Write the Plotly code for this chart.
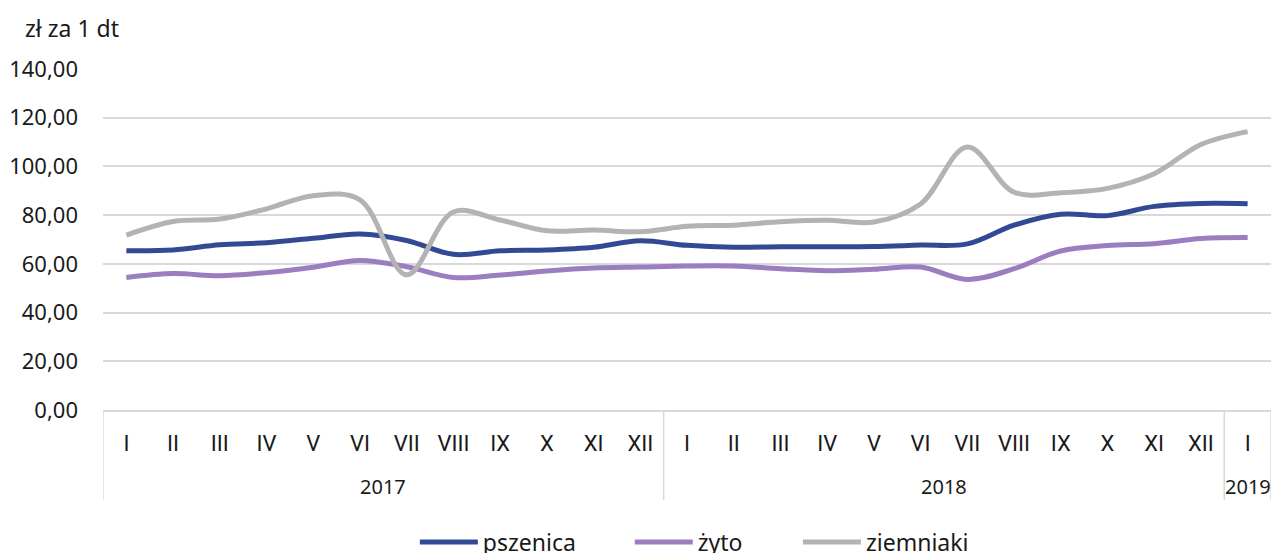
import plotly.graph_objects as go

years = ["2017"] * 12 + ["2018"] * 12 + ["2019"]
months = ["I", "II", "III", "IV", "V", "VI", "VII", "VIII", "IX", "X", "XI", "XII",
          "I", "II", "III", "IV", "V", "VI", "VII", "VIII", "IX", "X", "XI", "XII",
          "I"]

pszenica = [65.4, 65.7, 67.8, 68.7, 70.5, 72.3, 69.6, 63.9, 65.4, 65.7, 66.8, 69.5,
            67.6, 66.8, 67.0, 67.0, 67.1, 67.7, 68.2, 75.9, 80.4, 79.8, 83.6, 84.8,
            84.7]
zyto = [54.4, 56.0, 55.1, 56.4, 58.6, 61.4, 58.8, 54.4, 55.4, 57.1, 58.3, 58.7,
        59.1, 59.1, 58.0, 57.2, 57.8, 58.7, 53.6, 58.0, 65.3, 67.5, 68.3, 70.4,
        70.8]
ziemniaki = [71.8, 77.4, 78.4, 82.6, 88.0, 86.3, 55.5, 81.3, 78.0, 73.6, 73.9, 73.2,
             75.4, 75.9, 77.3, 77.9, 77.2, 84.6, 108.0, 89.4, 89.2, 91.0, 97.0, 109.0,
             114.3]

series = [("pszenica", pszenica, "#324a93"),
          ("żyto", zyto, "#9a7ec0"),
          ("ziemniaki", ziemniaki, "#b3b3b3")]

FONT = "Noto Sans"
MFONT = "Roboto"
TXT = "#1a1a1a"
GRID = "#d9d9d9"

idx = list(range(len(months)))

# year groups -> (label, start index, end index)
groups = []
for i, y in enumerate(years):
    if not groups or groups[-1][0] != y:
        groups.append([y, i, i])
    else:
        groups[-1][2] = i

fig = go.Figure()
legend_x = [0.267, 0.451, 0.595]
for k, (name, vals, col) in enumerate(series):
    lg = "legend" if k == 0 else f"legend{k + 1}"
    fig.add_trace(go.Scatter(
        x=idx, y=vals, name=name, mode="lines", legend=lg,
        line=dict(color=col, width=5, shape="spline", smoothing=1),
    ))

legend_common = dict(orientation="h", yanchor="middle", y=-0.387, xanchor="left",
                     font=dict(family=FONT, size=23, color=TXT),
                     itemwidth=58, bgcolor="rgba(0,0,0,0)")

annotations = [dict(text="zł za 1 dt", xref="paper", yref="paper",
                    x=-0.0685, y=1.12, xanchor="left", yanchor="middle",
                    showarrow=False, font=dict(family=FONT, size=23, color=TXT))]
shapes = []
for y, a, b in groups:
    annotations.append(dict(text=y, xref="x", yref="paper", x=(a + b) / 2, y=-0.223,
                            xanchor="center", yanchor="middle", showarrow=False,
                            font=dict(family=FONT, size=20, color=TXT)))
    shapes.append(dict(type="line", xref="x", yref="paper", x0=a - 0.5, x1=a - 0.5,
                       y0=0, y1=-0.264, line=dict(color=GRID, width=1.5)))
shapes.append(dict(type="line", xref="x", yref="paper", x0=len(idx) - 0.5,
                   x1=len(idx) - 0.5, y0=0, y1=-0.264, line=dict(color=GRID, width=1.5)))

fig.update_layout(
    width=1274, height=553,
    margin=dict(l=103, r=3, t=69, b=143, autoexpand=False),
    paper_bgcolor="white", plot_bgcolor="white",
    separators=", ",
    font=dict(family=FONT, size=20, color=TXT),
    showlegend=True,
    legend=dict(x=legend_x[0], **legend_common),
    legend2=dict(x=legend_x[1], **legend_common),
    legend3=dict(x=legend_x[2], **legend_common),
    annotations=annotations,
    shapes=shapes,
)

fig.update_xaxes(
    range=[-0.5, len(idx) - 0.5],
    tickmode="array", tickvals=idx, ticktext=months,
    showline=True, linecolor=GRID, linewidth=1.5,
    showgrid=False, zeroline=False, ticks="",
    tickfont=dict(family=MFONT, size=22, color=TXT),
    ticklabelstandoff=13,
    automargin=False,
)
fig.update_yaxes(
    range=[0, 140], dtick=20, tickformat=".2f",
    showgrid=True, gridcolor=GRID, gridwidth=1.5,
    zeroline=False, showline=False,
    tickfont=dict(family=FONT, size=22, color=TXT),
    ticklabelstandoff=24,
    automargin=False,
)

fig.write_html("out.html",
               config={"displayModeBar": False},
               post_script="document.body.style.margin='0';document.body.style.overflow='hidden';")
